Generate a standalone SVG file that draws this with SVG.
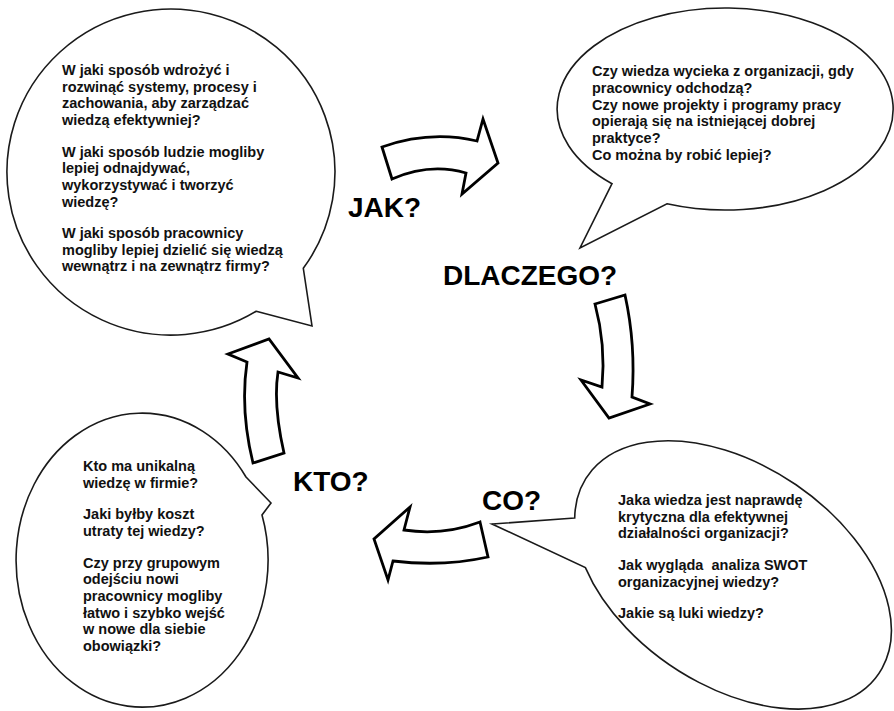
<svg xmlns="http://www.w3.org/2000/svg" width="894" height="711" viewBox="0 0 894 711">
<style>
.bubble{fill:#fff;stroke:#1a1a1a;stroke-width:1.6;stroke-linejoin:miter}
.arrow{fill:#fff;stroke:#000;stroke-width:2.8;stroke-linejoin:miter;stroke-miterlimit:10}
.txt{font-family:"Liberation Sans",Arial,sans-serif;font-weight:bold;font-size:14.5px;fill:#111}
.lbl{font-family:"Liberation Sans",Arial,sans-serif;font-weight:bold;font-size:28px;fill:#000}
</style>
<rect width="894" height="711" fill="#fff"/>
<g id="node-jak">
<path class="bubble" d="M256.2,311.3 L312,326 L303.3,268.3 A164,163 0 1,0 256.2,311.3 Z"/>
<text class="txt" x="62">
<tspan x="62" y="75">W jaki sposób wdrożyć i</tspan>
<tspan x="62" y="91.7">rozwinąć systemy, procesy i</tspan>
<tspan x="62" y="108.3">zachowania, aby zarządzać</tspan>
<tspan x="62" y="125">wiedzą efektywniej?</tspan>
<tspan x="62" y="156.7">W jaki sposób ludzie mogliby</tspan>
<tspan x="62" y="173.3">lepiej odnajdywać,</tspan>
<tspan x="62" y="190">wykorzystywać i tworzyć</tspan>
<tspan x="62" y="206.7">wiedzę?</tspan>
<tspan x="62" y="238">W jaki sposób pracownicy</tspan>
<tspan x="62" y="254.7">mogliby lepiej dzielić się wiedzą</tspan>
<tspan x="62" y="271.3">wewnątrz i na zewnątrz firmy?</tspan>
</text>
</g>
<g id="node-dlaczego">
<path class="bubble" d="M612,183.7 L580,248 L667,203.8 A168,101 0 1,0 612,183.7 Z"/>
<text class="txt">
<tspan x="592" y="76">Czy wiedza wycieka z organizacji, gdy</tspan>
<tspan x="592" y="93">pracownicy odchodzą?</tspan>
<tspan x="592" y="110">Czy nowe projekty i programy pracy</tspan>
<tspan x="592" y="126">opierają się na istniejącej dobrej</tspan>
<tspan x="592" y="143">praktyce?</tspan>
<tspan x="592" y="160">Co można by robić lepiej?</tspan>
</text>
</g>
<g id="node-co">
<path class="bubble" d="M574.7,518 L492,524 L585.4,567.6 A176,110 34 1,0 574.7,518 Z"/>
<text class="txt" xml:space="preserve"><tspan x="618" y="505">Jaka wiedza jest naprawdę</tspan><tspan x="618" y="522">krytyczna dla efektywnej</tspan><tspan x="618" y="538">działalności organizacji?</tspan><tspan x="618" y="570">Jak wygląda  analiza SWOT</tspan><tspan x="618" y="587">organizacyjnej wiedzy?</tspan><tspan x="618" y="618">Jakie są luki wiedzy?</tspan></text>
</g>
<g id="node-kto">
<path class="bubble" d="M246,477 L271,503 L262,515 A126,147 0 1,1 246,477 Z"/>
<text class="txt">
<tspan x="83" y="471">Kto ma unikalną</tspan>
<tspan x="83" y="488">wiedzę w firmie?</tspan>
<tspan x="83" y="519">Jaki byłby koszt</tspan>
<tspan x="83" y="536">utraty tej wiedzy?</tspan>
<tspan x="83" y="567.5">Czy przy grupowym</tspan>
<tspan x="83" y="584">odejściu nowi</tspan>
<tspan x="83" y="601">pracownicy mogliby</tspan>
<tspan x="83" y="617.5">łatwo i szybko wejść</tspan>
<tspan x="83" y="634">w nowe dla siebie</tspan>
<tspan x="83" y="651">obowiązki?</tspan>
</text>
</g>
<g id="label-jak"><text class="lbl" x="348" y="217">JAK?</text></g>
<g id="label-dlaczego"><text class="lbl" x="443" y="285">DLACZEGO?</text></g>
<g id="label-co"><text class="lbl" x="482" y="510">CO?</text></g>
<g id="label-kto"><text class="lbl" x="293" y="491">KTO?</text></g>
<g id="connectors">
<path class="arrow" d="M382,147 Q430,130 477,141 L483,119 L498,163 L462,194 L466,173 Q430,162.5 392,179 Z"/>
<path class="arrow" d="M595,304 L625,295 Q636,345 632,397 L650,404 L609,418 L581,380 L602,387 Q606,345 595,304 Z"/>
<path class="arrow" d="M480,522 L488,557 Q443,567 393,561 L388,580 L374,539 L410,507 L404,530 Q443,536 480,522 Z"/>
<path class="arrow" d="M253,463 L284,453 Q273,405 278,372 L298,378 L269,339 L228,354 L247,362 Q240,410 253,463 Z"/>
</g>
</svg>
